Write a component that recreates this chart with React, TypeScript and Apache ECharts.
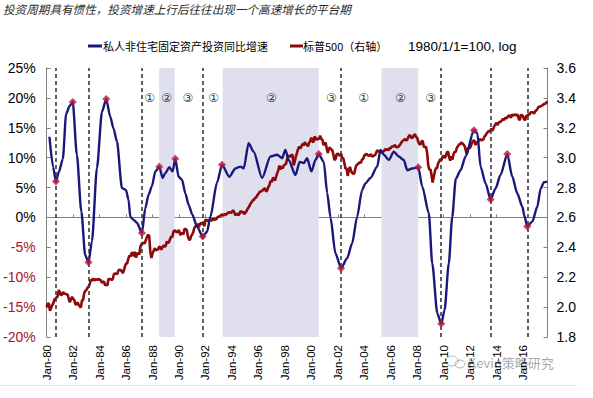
import React, { useEffect, useRef } from 'react';
import * as echarts from 'echarts';

const TITLE = '投资周期具有惯性，投资增速上行后往往出现一个高速增长的平台期';
const BLUE_NAME = '私人非住宅固定资产投资同比增速';
const RED_NAME = '标普500（右轴）';
const NOTE = '1980/1/1=100, log';
const WATERMARK = 'Kevin策略研究';

// S&P 500 monthly closes, Jan-1980 .. Oct-2017 (base: 1979-12-31 close)
const spBase = 107.94;
const spMonthly = [
  114.16, 113.66, 102.09, 106.29, 111.24, 114.24, 121.67, 122.38, 125.46, 127.47, 140.52, 135.76,
  129.55, 131.27, 136.0, 132.81, 132.59, 131.21, 130.92, 122.79, 116.18, 121.89, 126.35, 122.55,
  120.4, 113.11, 111.96, 116.44, 111.88, 109.61, 107.09, 119.51, 120.42, 133.71, 138.54, 140.64,
  145.3, 148.06, 152.96, 164.42, 162.39, 168.11, 162.56, 164.4, 166.07, 163.55, 166.4, 164.93,
  163.41, 157.06, 159.18, 160.05, 150.55, 153.18, 150.66, 166.68, 166.1, 166.09, 163.58, 167.24,
  179.63, 181.18, 180.66, 179.83, 189.55, 191.85, 190.92, 188.63, 182.08, 189.82, 202.17, 211.28,
  211.78, 226.92, 238.9, 235.52, 247.35, 250.84, 236.12, 252.93, 231.32, 243.98, 249.22, 242.17,
  274.08, 284.2, 291.7, 288.36, 290.1, 304.0, 318.66, 329.8, 321.83, 251.79, 230.3, 247.08,
  257.07, 267.82, 258.89, 261.33, 262.16, 273.5, 272.02, 261.52, 271.91, 278.97, 273.7, 277.72,
  297.47, 288.86, 294.87, 309.64, 320.52, 317.98, 346.08, 351.45, 349.15, 340.36, 345.99, 353.4,
  329.08, 331.89, 339.94, 330.8, 361.23, 358.02, 356.15, 322.56, 306.05, 304.0, 322.22, 330.22,
  343.93, 367.07, 375.22, 375.35, 389.83, 371.16, 387.81, 395.43, 387.86, 392.45, 375.22, 417.09,
  408.79, 412.7, 403.69, 414.95, 415.35, 408.14, 424.21, 414.03, 417.8, 418.68, 431.35, 435.71,
  438.78, 443.38, 451.67, 440.19, 450.19, 450.53, 448.13, 463.56, 458.93, 467.83, 461.79, 466.45,
  481.61, 467.14, 445.77, 450.91, 456.5, 444.27, 458.26, 475.49, 462.69, 472.35, 453.69, 459.27,
  470.42, 487.39, 500.71, 514.71, 533.4, 544.75, 562.06, 561.88, 584.41, 581.5, 605.37, 615.93,
  636.02, 640.43, 645.5, 654.17, 669.12, 670.63, 639.95, 651.99, 687.33, 705.27, 757.02, 740.74,
  786.16, 790.82, 757.12, 801.34, 848.28, 885.14, 954.31, 899.47, 947.28, 914.62, 955.4, 970.43,
  980.28, 1049.34, 1101.75, 1111.75, 1090.82, 1133.84, 1120.67, 957.28, 1017.01, 1098.67, 1163.63, 1229.23,
  1279.64, 1238.33, 1286.37, 1335.18, 1301.84, 1372.71, 1328.72, 1320.41, 1282.71, 1362.93, 1388.91, 1469.25,
  1394.46, 1366.42, 1498.58, 1452.43, 1420.6, 1454.6, 1430.83, 1517.68, 1436.51, 1429.4, 1314.95, 1320.28,
  1366.01, 1239.94, 1160.33, 1249.46, 1255.82, 1224.38, 1211.23, 1133.58, 1040.94, 1059.78, 1139.45, 1148.08,
  1130.2, 1106.73, 1147.39, 1076.92, 1067.14, 989.82, 911.62, 916.07, 815.28, 885.76, 936.31, 879.82,
  855.7, 841.15, 848.18, 916.92, 963.59, 974.5, 990.31, 1008.01, 995.97, 1050.71, 1058.2, 1111.92,
  1131.13, 1144.94, 1126.21, 1107.3, 1120.68, 1140.84, 1101.72, 1104.24, 1114.58, 1130.2, 1173.82, 1211.92,
  1181.27, 1203.6, 1180.59, 1156.85, 1191.5, 1191.33, 1234.18, 1220.33, 1228.81, 1207.01, 1249.48, 1248.29,
  1280.08, 1280.66, 1294.87, 1310.61, 1270.09, 1270.2, 1276.66, 1303.82, 1335.85, 1377.94, 1400.63, 1418.3,
  1438.24, 1406.82, 1420.86, 1482.37, 1530.62, 1503.35, 1455.27, 1473.99, 1526.75, 1549.38, 1481.14, 1468.36,
  1378.55, 1330.63, 1322.7, 1385.59, 1400.38, 1280.0, 1267.38, 1282.83, 1166.36, 968.75, 896.24, 903.25,
  825.88, 735.09, 797.87, 872.81, 919.14, 919.32, 987.48, 1020.62, 1057.08, 1036.19, 1095.63, 1115.1,
  1073.87, 1104.49, 1169.43, 1186.69, 1089.41, 1030.71, 1101.6, 1049.33, 1141.2, 1183.26, 1180.55, 1257.64,
  1286.12, 1327.22, 1325.83, 1363.61, 1345.2, 1320.64, 1292.28, 1218.89, 1131.42, 1253.3, 1246.96, 1257.6,
  1312.41, 1365.68, 1408.47, 1397.91, 1310.33, 1362.16, 1379.32, 1406.58, 1440.67, 1412.16, 1416.18, 1426.19,
  1498.11, 1514.68, 1569.19, 1597.57, 1630.74, 1606.28, 1685.73, 1632.97, 1681.55, 1756.54, 1805.81, 1848.36,
  1782.59, 1859.45, 1872.34, 1883.95, 1923.57, 1960.23, 1930.67, 2003.37, 1972.29, 2018.05, 2067.56, 2058.9,
  1994.99, 2104.5, 2067.89, 2085.51, 2107.39, 2063.11, 2103.84, 1972.18, 1920.03, 2079.36, 2080.41, 2043.94,
  1940.24, 1932.23, 2059.74, 2065.3, 2096.95, 2098.86, 2173.6, 2170.95, 2168.27, 2126.15, 2198.81, 2238.83,
  2278.87, 2363.64, 2362.72, 2384.2, 2411.8, 2423.41, 2470.3, 2471.65, 2519.36, 2575.26,
];

// Private non-residential fixed investment, YoY %
const blueYears = [
  1980.21, 1980.48, 1980.7, 1980.92, 1981.22, 1981.47, 1981.72, 1981.97, 1982.28, 1982.62, 1982.91,
  1983.16, 1983.42, 1983.8, 1984.18, 1984.5, 1984.8, 1985.05, 1985.31, 1985.69, 1985.99, 1986.19,
  1986.32, 1986.57, 1986.82, 1987.2, 1987.45, 1987.7, 1987.95, 1988.21, 1988.51, 1988.76, 1988.96,
  1989.27, 1989.52, 1989.72, 1989.97, 1990.23, 1990.48, 1990.73, 1991.0, 1991.36, 1991.79, 1992.12,
  1992.37, 1992.87, 1993.25, 1993.8, 1994.26, 1994.64, 1994.89, 1995.26, 1995.64, 1996.28, 1996.91,
  1997.41, 1997.79, 1998.04, 1998.29, 1998.8, 1999.12, 1999.43, 1999.68, 2000.01, 2000.31, 2000.56,
  2000.94, 2001.2, 2001.45, 2001.82, 2002.25, 2002.71, 2003.09, 2003.46, 2003.84, 2004.09, 2004.47,
  2004.98, 2005.23, 2005.48, 2005.86, 2006.23, 2006.61, 2006.99, 2007.25, 2007.62, 2008.08, 2008.38,
  2008.88, 2009.14, 2009.52, 2009.82, 2010.07, 2010.39, 2010.65, 2010.92, 2011.28, 2011.66, 2012.29,
  2012.55, 2012.79, 2013.17, 2013.55, 2013.93, 2014.3, 2014.81, 2015.19, 2015.57, 2015.95, 2016.1,
  2016.32, 2016.7, 2017.08, 2017.33, 2017.58, 2017.83,
];
const blueValues = [
  13.5, 8.5, 6.0, 7.6, 9.8, 17.3, 18.6, 19.3, 10.5, 1.0, -6.3,
  -7.5, -4.0, 8.3, 17.7, 19.8, 16.9, 14.9, 12.7, 4.9, 4.6, 2.9,
  0.1, -0.4, -0.9, -2.6, 1.5, 3.8, 5.2, 7.7, 8.5, 6.6, 7.4,
  8.4, 7.7, 9.8, 6.8, 6.3, 4.0, 2.1, 0.5, -1.5, -3.2, -2.4,
  0.1, 5.8, 8.8, 6.8, 8.2, 8.5, 8.2, 12.4, 11.0, 6.6, 10.2,
  10.5, 9.9, 11.3, 9.6, 7.1, 9.3, 9.1, 9.9, 7.7, 9.6, 10.6,
  9.3, 4.1, 0.0, -6.0, -8.5, -6.8, -4.3, 0.1, 4.6, 5.7, 6.6,
  8.5, 11.3, 10.5, 9.6, 11.0, 10.2, 9.6, 7.9, 8.2, 8.4, 5.2,
  0.7, -7.7, -16.0, -17.8, -15.5, -7.7, 0.1, 6.5, 7.9, 10.2, 14.6,
  14.1, 8.5, 5.7, 3.0, 4.9, 7.1, 10.6, 6.8, 4.0, 1.8, 0.3,
  -1.5, -0.7, 1.8, 4.8, 5.9, 6.0,
];

// turning points (red diamonds)
const markerYears = [1980.7, 1981.97, 1983.16, 1984.5, 1987.2, 1988.51, 1989.72, 1991.79, 1993.25, 2000.56, 2002.25, 2008.08, 2009.82, 2012.29, 2013.55, 2014.81, 2016.32];
const markerValues = [6.0, 19.3, -7.5, 19.8, -2.6, 8.5, 9.8, -3.2, 8.8, 10.6, -8.5, 8.4, -17.8, 14.6, 3.0, 10.6, -1.5];

// dashed vertical lines (cycle troughs)
const dashYears = [1980.7, 1983.16, 1987.2, 1991.79, 2002.25, 2009.82, 2013.55, 2016.32];

// shaded plateau periods
const shadeStarts = [1988.5, 1993.3, 2005.3];
const shadeEnds = [1989.68, 2000.56, 2008.08];

// phase labels
const phaseLabels = ['①', '②', '③', '①', '②', '③', '①', '②', '③'];
const phaseYears = [1987.78, 1989.06, 1990.68, 1992.62, 1996.98, 2001.52, 2003.96, 2006.74, 2009.01];
const phaseLevel = 20;

const X_MIN = 1980;
const X_MAX = 2017.85;

export default function App() {
  const ref = useRef<HTMLDivElement>(null);

  useEffect(() => {
    if (!ref.current) return;
    const chart = echarts.init(ref.current, undefined, { renderer: 'svg' });

    const redData: number[][] = [[1980, 2]];
    spMonthly.forEach((v, i) => {
      redData.push([1980 + (i + 1) / 12, 2 + Math.log10(v / spBase)]);
    });
    const blueData = blueYears.map((y, i) => [y, blueValues[i]]);
    const markerData = markerYears.map((y, i) => [y, markerValues[i]]);
    const phaseData = phaseYears.map((y, i) => ({ value: [y, phaseLevel], name: phaseLabels[i] }));

    const latin = '"Liberation Sans", Arial, sans-serif';
    const cjk = '"Noto Sans CJK SC", sans-serif';

    const option: any = {
      animation: false,
      backgroundColor: '#ffffff',
      textStyle: { fontFamily: latin },
      grid: { left: 46.5, right: 45.5, top: 68, bottom: 61 },
      xAxis: [
        {
          type: 'value',
          min: X_MIN,
          max: X_MAX,
          interval: 2,
          position: 'bottom',
          axisLine: { show: false, onZero: false },
          axisTick: { show: false },
          splitLine: { show: false },
          axisLabel: {
            rotate: 90,
            margin: 8,
            fontSize: 11.5,
            color: '#000',
            fontFamily: latin,
            formatter: (v: number) => {
              if (Math.abs(v - Math.round(v)) > 1e-6) return '';
              const r = Math.round(v);
              if (r % 2 !== 0 || r > 2016) return '';
              return 'Jan-' + String(r % 100).padStart(2, '0');
            },
          },
        },
        {
          type: 'value',
          min: X_MIN,
          max: X_MAX,
          interval: 2,
          position: 'bottom',
          axisLine: { show: true, onZero: true, onZeroAxisIndex: 0, lineStyle: { color: '#808080', width: 1 } },
          axisTick: { show: true, inside: true, length: 3, lineStyle: { color: '#808080' } },
          axisLabel: { show: false },
          splitLine: { show: false },
        },
      ],
      yAxis: [
        {
          type: 'value',
          position: 'left',
          min: -20,
          max: 25,
          interval: 5,
          axisLine: { show: true, onZero: false, lineStyle: { color: '#808080', width: 1 } },
          axisTick: { show: true, inside: true, length: 4, lineStyle: { color: '#808080' } },
          splitLine: { show: false },
          axisLabel: {
            margin: 11,
            fontSize: 14,
            fontFamily: latin,
            formatter: (v: number) => Math.round(v) + '%',
            color: (v: any) => (Number(v) < 0 ? '#a8132f' : '#000000'),
          },
        },
        {
          type: 'value',
          position: 'right',
          min: 1.8,
          max: 3.6,
          interval: 0.2,
          axisLine: { show: true, onZero: false, lineStyle: { color: '#808080', width: 1 } },
          axisTick: { show: true, inside: true, length: 4, lineStyle: { color: '#808080' } },
          splitLine: { show: false },
          axisLabel: {
            margin: 9,
            fontSize: 14,
            color: '#000',
            fontFamily: latin,
            formatter: (v: number) => v.toFixed(1),
          },
        },
      ],
      series: [
        {
          name: RED_NAME,
          type: 'line',
          xAxisIndex: 0,
          yAxisIndex: 1,
          data: redData,
          showSymbol: false,
          symbol: 'none',
          z: 3,
          lineStyle: { color: '#8e0a0a', width: 2.6 },
          markArea: {
            silent: true,
            itemStyle: { color: '#dfdfee' },
            data: shadeStarts.map((s, i) => [{ xAxis: s }, { xAxis: shadeEnds[i] }]),
          },
        },
        {
          name: BLUE_NAME,
          type: 'line',
          xAxisIndex: 0,
          yAxisIndex: 0,
          data: blueData,
          showSymbol: false,
          symbol: 'none',
          smooth: 0.25,
          smoothMonotone: 'x',
          z: 4,
          lineStyle: { color: '#18187a', width: 2.4 },
          markLine: {
            silent: true,
            symbol: ['none', 'none'],
            label: { show: false },
            lineStyle: { type: [4, 3], color: '#3a3a3a', width: 1.6 },
            data: dashYears.map((x) => ({ xAxis: x })),
          },
        },
        {
          name: 'turning',
          type: 'scatter',
          xAxisIndex: 0,
          yAxisIndex: 0,
          data: markerData,
          symbol: 'diamond',
          symbolSize: 8,
          z: 6,
          itemStyle: { color: '#b3163c' },
        },
        {
          name: 'phase',
          type: 'scatter',
          xAxisIndex: 0,
          yAxisIndex: 0,
          data: phaseData,
          symbolSize: 0.1,
          z: 7,
          itemStyle: { color: 'rgba(0,0,0,0)' },
          label: {
            show: true,
            position: 'inside',
            formatter: '{b}',
            fontSize: 12,
            color: '#000',
            fontFamily: '"DejaVu Sans", "Noto Sans CJK SC", sans-serif',
          },
        },
      ],
      graphic: [
        {
          type: 'text',
          left: 3,
          top: 3,
          style: {
            text: TITLE,
            fontSize: 11.6,
            fontStyle: 'italic',
            fontFamily: cjk,
            fill: '#2a2a2a',
          },
        },
        {
          type: 'line',
          shape: { x1: 88, y1: 46, x2: 102, y2: 46 },
          style: { stroke: '#18187a', lineWidth: 3 },
        },
        {
          type: 'text',
          x: 103,
          y: 46,
          style: { text: BLUE_NAME, fontSize: 11, fontFamily: cjk, fill: '#000', verticalAlign: 'middle' },
        },
        {
          type: 'line',
          shape: { x1: 290, y1: 46, x2: 303, y2: 46 },
          style: { stroke: '#8e0a0a', lineWidth: 3 },
        },
        {
          type: 'text',
          x: 303,
          y: 46,
          style: { text: RED_NAME, fontSize: 11, fontFamily: cjk, fill: '#000', verticalAlign: 'middle' },
        },
        {
          type: 'text',
          x: 408,
          y: 46,
          style: { text: NOTE, fontSize: 13.5, fontFamily: latin, fill: '#000', verticalAlign: 'middle' },
        },
        {
          type: 'ellipse',
          shape: { cx: 452, cy: 361, rx: 6, ry: 5 },
          style: { fill: 'none', stroke: 'rgba(150,150,150,0.7)', lineWidth: 1 },
        },
        {
          type: 'ellipse',
          shape: { cx: 460, cy: 364, rx: 5, ry: 4 },
          style: { fill: 'none', stroke: 'rgba(150,150,150,0.7)', lineWidth: 1 },
        },
        {
          type: 'text',
          x: 468,
          y: 362,
          style: { text: WATERMARK, fontSize: 13, fontFamily: cjk, fill: 'rgba(140,140,140,0.75)', verticalAlign: 'middle' },
        },
        {
          type: 'line',
          shape: { x1: 0, y1: 385.5, x2: 577, y2: 385.5 },
          style: { stroke: '#e6e6e6', lineWidth: 1 },
        },
      ],
    };

    chart.setOption(option);
    return () => chart.dispose();
  }, []);

  return (
    <div
      ref={ref}
      style={{ position: 'fixed', left: 0, top: 0, width: 593, height: 398, background: '#fff' }}
    />
  );
}
